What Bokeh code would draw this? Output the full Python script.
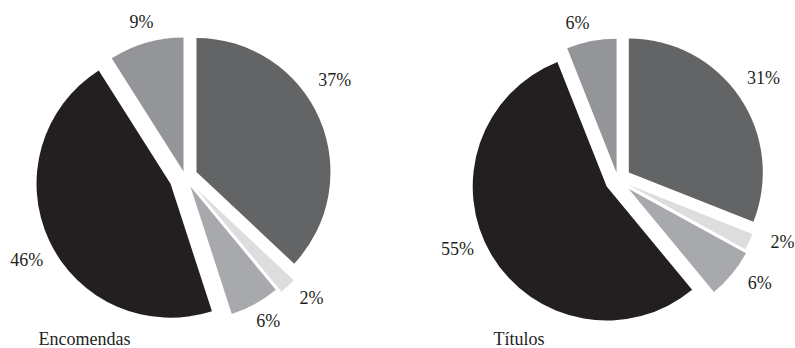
import numpy as np
from bokeh.plotting import figure
from bokeh.models import Range1d
from bokeh.core.properties import value
from bokeh.embed import file_html
from bokeh.resources import INLINE

# ---- data ----
left_title = "Encomendas"
left_values = [37, 2, 6, 46, 9]
left_labels = ["37%", "2%", "6%", "46%", "9%"]

right_title = "Títulos"
right_values = [31, 2, 6, 55, 6]
right_labels = ["31%", "2%", "6%", "55%", "6%"]

slice_colors = ["#636466", "#dcddde", "#a7a9ac", "#231f20", "#939598"]

# ---- layout / style ----
W, H = 795, 348
R = 134
TEXT_COLOR = "#231f20"
FONT = "Liberation Serif"

left_layout = dict(
    center=(184.6, H - 176.4),
    explode=[12.4, 16, 11, 16.1, 5.7],
    label_angle=[57.2, 133.7, 149.9, 242.2, 344.3],
    label_dist=[178, 175, 166, 179, 161],
    title_pos=(38, H - 338),
)
right_layout = dict(
    center=(617.4, H - 179.4),
    explode=[13.2, 11, 13.8, 13, 7.3],
    label_angle=[54.9, 110.8, 125.9, 246.8, 345.6],
    label_dist=[178, 176, 175, 174.5, 162.5],
    title_pos=(493, H - 338),
)

p = figure(width=W, height=H, x_range=Range1d(0, W), y_range=Range1d(0, H),
           output_backend="svg", toolbar_location=None, min_border=0)
p.axis.visible = False
p.grid.visible = False
p.outline_line_color = None
p.background_fill_color = "white"
p.border_fill_color = "white"


def draw_pie(values, labels, title, lay):
    v = np.asarray(values, dtype=float)
    frac = v / v.sum()
    ends = np.cumsum(frac) * 2 * np.pi
    starts = ends - frac * 2 * np.pi
    mids = (starts + ends) / 2
    cx, cy = lay["center"]
    d = np.asarray(lay["explode"], dtype=float)
    xs = cx + d * np.sin(mids)
    ys = cy + d * np.cos(mids)
    # clockwise-from-top angles -> bokeh anticlockwise-from-x angles
    p.wedge(x=xs, y=ys, radius=R,
            start_angle=np.pi / 2 - ends, end_angle=np.pi / 2 - starts,
            direction="anticlock", fill_color=slice_colors, line_color=None)
    la = np.radians(lay["label_angle"])
    ld = np.asarray(lay["label_dist"], dtype=float)
    p.text(x=cx + ld * np.sin(la), y=cy + ld * np.cos(la), text=labels,
           text_font=value(FONT), text_font_size="18px", text_color=TEXT_COLOR,
           text_align="center", text_baseline="middle")
    tx, ty = lay["title_pos"]
    p.text(x=[tx], y=[ty], text=[title], text_font=value(FONT),
           text_font_size="18px", text_color=TEXT_COLOR,
           text_align="left", text_baseline="middle")


draw_pie(left_values, left_labels, left_title, left_layout)
draw_pie(right_values, right_labels, right_title, right_layout)

open("out.html", "w").write(file_html(p, INLINE))
